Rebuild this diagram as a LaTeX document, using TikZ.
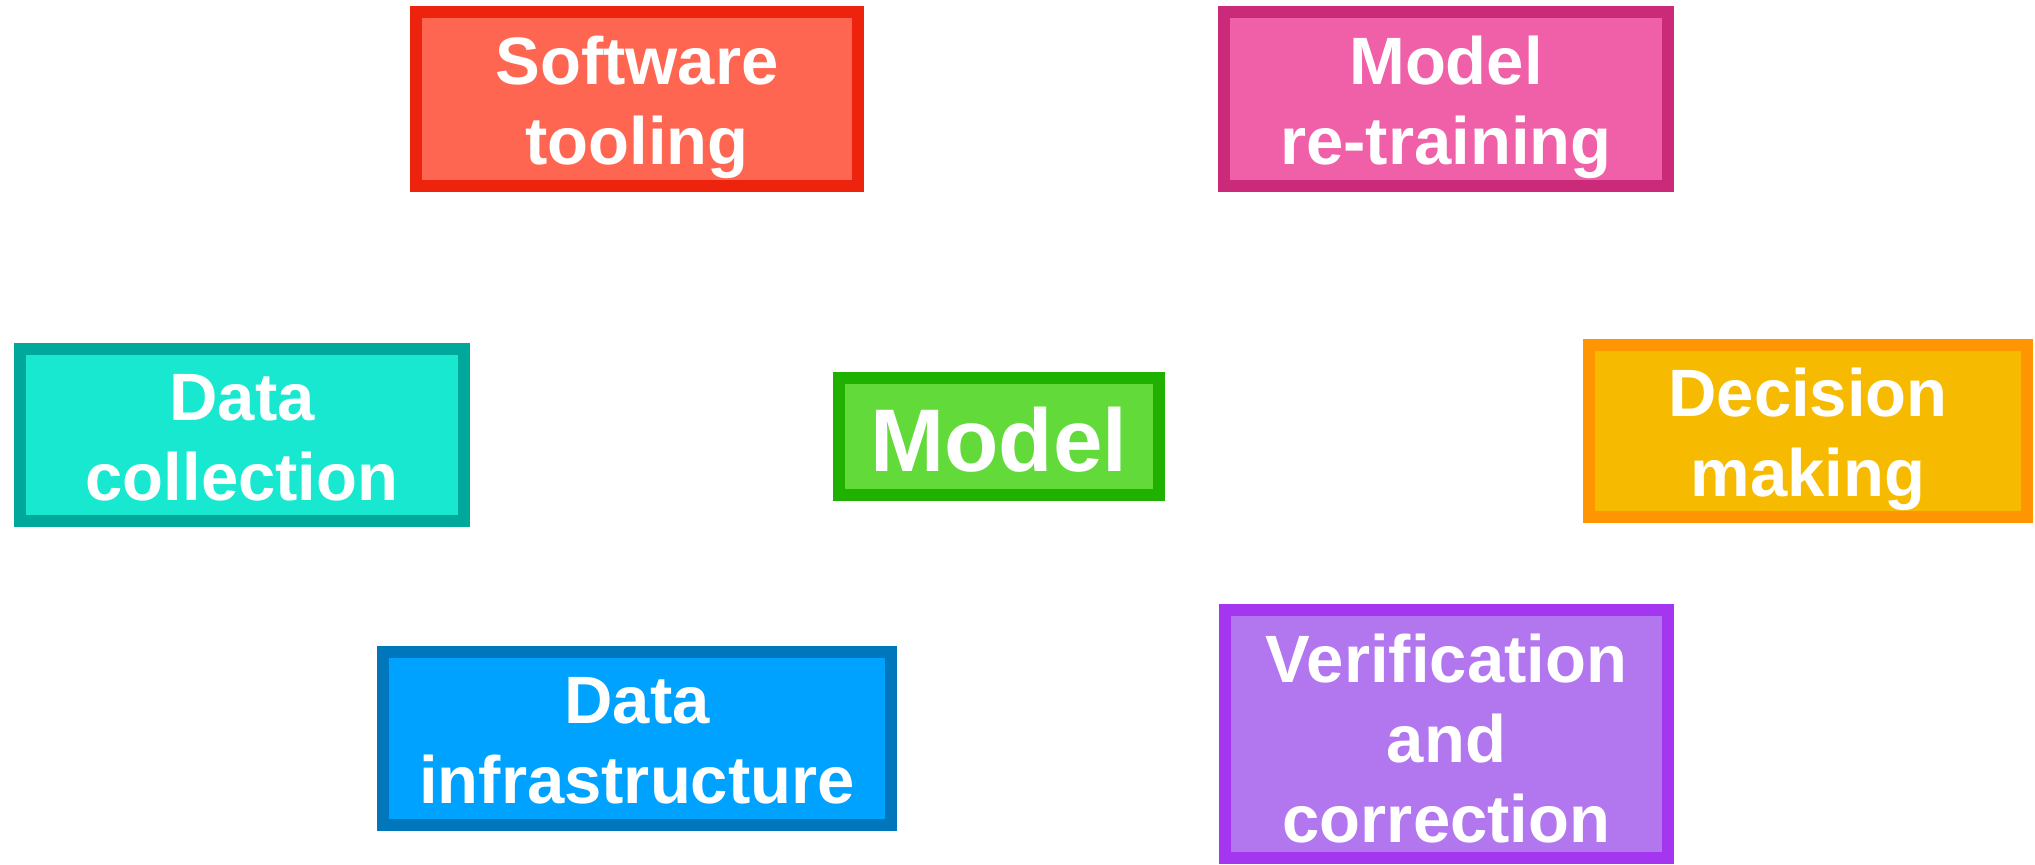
\documentclass[tikz,border=0pt]{standalone}
\usepackage{fontspec}
\setmainfont{Liberation Sans}

\definecolor{toolfill}{HTML}{FF6651}
\definecolor{tooldraw}{HTML}{EE230E}
\definecolor{trainfill}{HTML}{F060A8}
\definecolor{traindraw}{HTML}{CB2A7A}
\definecolor{collectfill}{HTML}{19E8D0}
\definecolor{collectdraw}{HTML}{00A89C}
\definecolor{modelfill}{HTML}{62DA3A}
\definecolor{modeldraw}{HTML}{20B000}
\definecolor{decidefill}{HTML}{F6BA00}
\definecolor{decidedraw}{HTML}{FF9500}
\definecolor{infrafill}{HTML}{00A2FF}
\definecolor{infradraw}{HTML}{0077BB}
\definecolor{verifyfill}{HTML}{B277EE}
\definecolor{verifydraw}{HTML}{A436F0}

\begin{document}
\begin{tikzpicture}
  [x=0.5pt, y=-0.5pt,
   every node/.style={draw, line width=6pt, inner sep=0pt, outer sep=0pt, align=center, text=white,
                      text depth=0pt, font=\bfseries\fontsize{33.5}{40}\selectfont},
   stage/.style={minimum width=221pt, minimum height=87pt, text height=65pt},
   core/.style={minimum width=160pt, minimum height=58.5pt, text height=34.5pt,
                font=\bfseries\fontsize{44.5}{52}\selectfont}]
  \useasboundingbox (0,0) rectangle (2035,864);
  \node [core, fill=modelfill, draw=modeldraw] (model) at (999,436.5) {Model};
  \node [stage, fill=toolfill, draw=tooldraw] (tooling) at (637,99) {Software\\tooling};
  \node [stage, fill=trainfill, draw=traindraw, minimum width=222pt] (retrain) at (1446,99) {Model\\re-training};
  \node [stage, fill=collectfill, draw=collectdraw, minimum width=222pt, minimum height=86pt] (collect) at (242,435) {Data\\collection};
  \node [stage, fill=decidefill, draw=decidedraw, minimum width=219pt, minimum height=86pt] (decide) at (1808,431) {Decision\\making};
  \node [stage, fill=infrafill, draw=infradraw, minimum width=254pt, minimum height=86.5pt] (infra) at (637,738.5) {Data\\infrastructure};
  \node [stage, fill=verifyfill, draw=verifydraw, minimum width=221.5pt, minimum height=124pt, text height=108pt] (verify) at (1446.5,734) {Verification\\and\\correction};
\end{tikzpicture}
\end{document}
